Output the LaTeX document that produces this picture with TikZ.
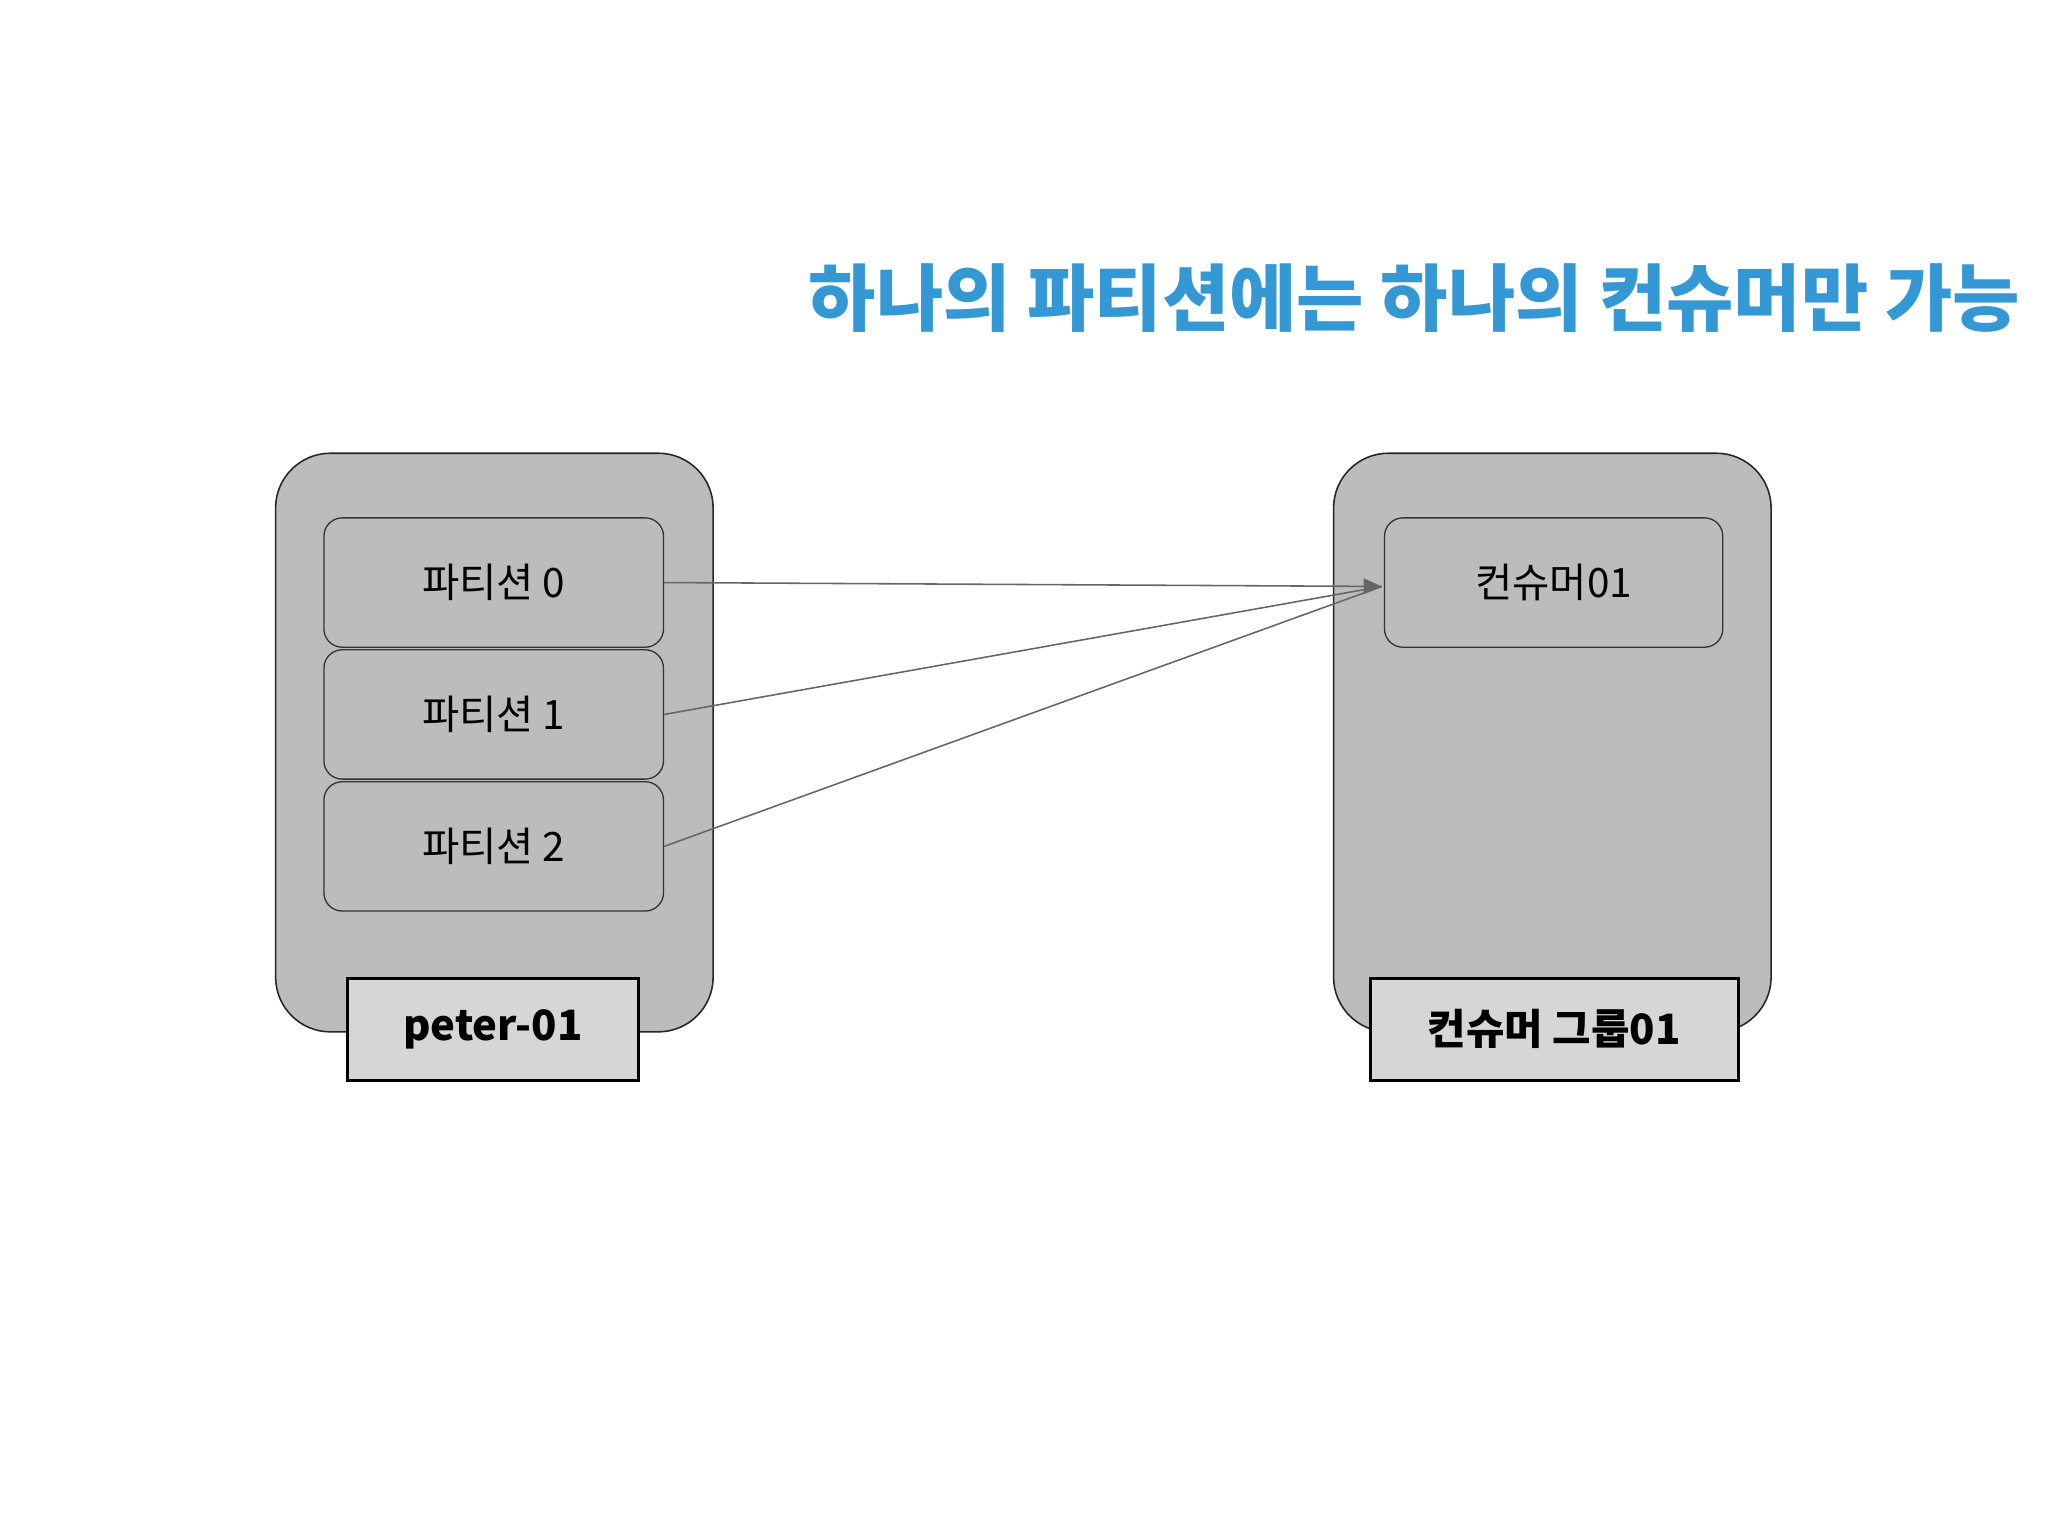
\documentclass[tikz,border=0pt]{standalone}
\usepackage{fontspec}
\setmainfont{Noto Sans CJK KR}
\usetikzlibrary{arrows.meta}
\definecolor{titleblue}{RGB}{52,152,212}
\definecolor{outergray}{RGB}{188,187,190}
\definecolor{labelgray}{RGB}{214,214,214}
\tikzset{
 outer/.style={draw=black!85,line width=1.2pt,fill=outergray,rounded corners=42pt},
 part/.style={draw=black!80,line width=1pt,fill=outergray,rounded corners=14pt,font=\fontsize{31}{31}\selectfont},
 lab/.style={draw=black,line width=2.2pt,fill=labelgray,font=\fontsize{32}{32}\selectfont\bfseries},
 conn/.style={draw=black!60,line width=1.2pt},
}
\begin{document}
\begin{tikzpicture}[x=1pt,y=-1pt]
\fill[white] (0,0) rectangle (1568,1176);
\useasboundingbox (0,0) rectangle (1568,1176);
\node[anchor=east,text=titleblue,font=\fontsize{56}{56}\selectfont\bfseries] (title) at (1550,228) {하나의 파티션에는 하나의 컨슈머만 가능};
\draw[outer] (211,347) rectangle (546,790);
\draw[outer] (1021,347) rectangle (1356,790);
\node[part,minimum width=260pt,minimum height=99pt] (p0) at (378,446) {파티션 0};
\node[part,minimum width=260pt,minimum height=99pt] (p1) at (378,547) {파티션 1};
\node[part,minimum width=260pt,minimum height=99pt] (p2) at (378,648) {파티션 2};
\node[part,minimum width=259pt,minimum height=99pt] (c0) at (1189.5,446) {컨슈머01};
\node[lab,minimum width=223pt,minimum height=78pt] (l1) at (377.5,788) {peter-01};
\node[lab,minimum width=282pt,minimum height=78pt] (l2) at (1190,788) {컨슈머 그룹01};
\coordinate (tip) at (1058,449);
\draw[conn] (p1.east) -- (tip);
\draw[conn] (p2.east) -- (tip);
\draw[conn,-{Triangle[length=14pt,width=12pt]}] (p0.east) -- (tip);
\end{tikzpicture}
\end{document}
